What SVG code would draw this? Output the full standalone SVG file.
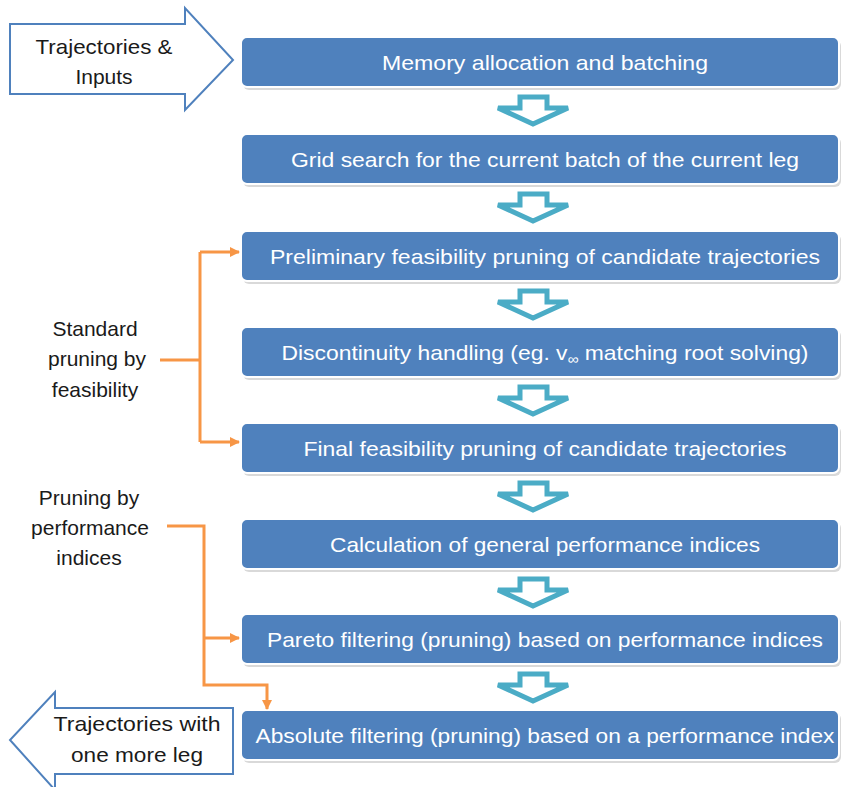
<svg xmlns="http://www.w3.org/2000/svg" width="841" height="787" viewBox="0 0 841 787">
<style>
.box{fill:#4F81BD;stroke:#ffffff;stroke-width:2}
.shadow{fill:#bfbfbf;opacity:0.6}
.bt{font-family:"Liberation Sans",Arial,sans-serif;font-size:21px;fill:#ffffff;text-anchor:middle}
.lt{font-family:"Liberation Sans",Arial,sans-serif;font-size:21px;fill:#1a1a1a;text-anchor:middle}
.flow{fill:#ffffff;stroke:#4BACC6;stroke-width:5;stroke-linejoin:miter}
.big{fill:#ffffff;stroke:#4F81BD;stroke-width:2}
.or{fill:none;stroke:#F79646;stroke-width:3}
</style>
<defs>
<marker id="oa2" markerWidth="10" markerHeight="10" refX="9" refY="5" orient="auto" markerUnits="userSpaceOnUse">
<path d="M0,0 L10,5 L0,10 Z" fill="#F79646"/>
</marker>
</defs>

<g id="input">
<path class="big" d="M10,24 H185 V8 L233,60 L185,110 V94 H10 Z"/>
<text class="lt" x="104" y="54" textLength="137" lengthAdjust="spacingAndGlyphs">Trajectories &amp;</text>
<text class="lt" x="104" y="84">Inputs</text>
</g>

<g id="output">
<path class="big" d="M233,708 H55 V692 L10,740 L55,790 V774 H233 Z"/>
<text class="lt" x="137" y="731" textLength="167" lengthAdjust="spacingAndGlyphs">Trajectories with</text>
<text class="lt" x="137" y="762" textLength="132" lengthAdjust="spacingAndGlyphs">one more leg</text>
</g>

<g id="label-standard">
<text class="lt" x="95" y="336">Standard</text>
<text class="lt" x="97" y="366">pruning by</text>
<text class="lt" x="95" y="397">feasibility</text>
</g>

<g id="label-performance">
<text class="lt" x="89" y="505">Pruning by</text>
<text class="lt" x="90" y="535">performance</text>
<text class="lt" x="89" y="565">indices</text>
</g>

<g id="box1">
<rect class="shadow" x="243" y="40" width="598" height="50" rx="6"/>
<rect class="box" x="241" y="37" width="598" height="50" rx="6"/>
<text class="bt" x="545" y="70" textLength="326" lengthAdjust="spacingAndGlyphs">Memory allocation and batching</text>
</g>
<g id="box2">
<rect class="shadow" x="243" y="137" width="598" height="50" rx="6"/>
<rect class="box" x="241" y="134" width="598" height="50" rx="6"/>
<text class="bt" x="545" y="167" textLength="508" lengthAdjust="spacingAndGlyphs">Grid search for the current batch of the current leg</text>
</g>
<g id="box3">
<rect class="shadow" x="243" y="234" width="598" height="50" rx="6"/>
<rect class="box" x="241" y="231" width="598" height="50" rx="6"/>
<text class="bt" x="545" y="264" textLength="550" lengthAdjust="spacingAndGlyphs">Preliminary feasibility pruning of candidate trajectories</text>
</g>
<g id="box4">
<rect class="shadow" x="243" y="330" width="598" height="50" rx="6"/>
<rect class="box" x="241" y="327" width="598" height="50" rx="6"/>
<text class="bt" x="545" y="360" textLength="527" lengthAdjust="spacingAndGlyphs">Discontinuity handling (eg. v<tspan font-size="14" dy="4">∞</tspan><tspan dy="-4"> matching root solving)</tspan></text>
</g>
<g id="box5">
<rect class="shadow" x="243" y="426" width="598" height="50" rx="6"/>
<rect class="box" x="241" y="423" width="598" height="50" rx="6"/>
<text class="bt" x="545" y="456" textLength="483" lengthAdjust="spacingAndGlyphs">Final feasibility pruning of candidate trajectories</text>
</g>
<g id="box6">
<rect class="shadow" x="243" y="522" width="598" height="50" rx="6"/>
<rect class="box" x="241" y="519" width="598" height="50" rx="6"/>
<text class="bt" x="545" y="552" textLength="430" lengthAdjust="spacingAndGlyphs">Calculation of general performance indices</text>
</g>
<g id="box7">
<rect class="shadow" x="243" y="617" width="598" height="50" rx="6"/>
<rect class="box" x="241" y="614" width="598" height="50" rx="6"/>
<text class="bt" x="545" y="647" textLength="556" lengthAdjust="spacingAndGlyphs">Pareto filtering (pruning) based on performance indices</text>
</g>
<g id="box8">
<rect class="shadow" x="243" y="713" width="598" height="50" rx="6"/>
<rect class="box" x="241" y="710" width="598" height="50" rx="6"/>
<text class="bt" x="545" y="743" textLength="579" lengthAdjust="spacingAndGlyphs">Absolute filtering (pruning) based on a performance index</text>
</g>

<g id="connectors">
<g id="flow-arrows">
<path class="flow" d="M520,97 H547 V108 H568 L533,124 L498,108 H520 Z"/>
<path class="flow" d="M520,194 H547 V205 H568 L533,221 L498,205 H520 Z"/>
<path class="flow" d="M520,291 H547 V302 H568 L533,318 L498,302 H520 Z"/>
<path class="flow" d="M520,387 H547 V398 H568 L533,414 L498,398 H520 Z"/>
<path class="flow" d="M520,483 H547 V494 H568 L533,510 L498,494 H520 Z"/>
<path class="flow" d="M520,579 H547 V590 H568 L533,606 L498,590 H520 Z"/>
<path class="flow" d="M520,674 H547 V685 H568 L533,701 L498,685 H520 Z"/>
</g>
<g id="orange">
<path class="or" d="M160,360 H200"/>
<path class="or" d="M200,252 V442"/>
<path class="or" d="M200,252 H239" marker-end="url(#oa2)"/>
<path class="or" d="M200,442 H239" marker-end="url(#oa2)"/>
<path class="or" d="M167,526 H204 V685 H267 V709" marker-end="url(#oa2)"/>
<path class="or" d="M204,638 H239" marker-end="url(#oa2)"/>
</g>
</g>
</svg>
